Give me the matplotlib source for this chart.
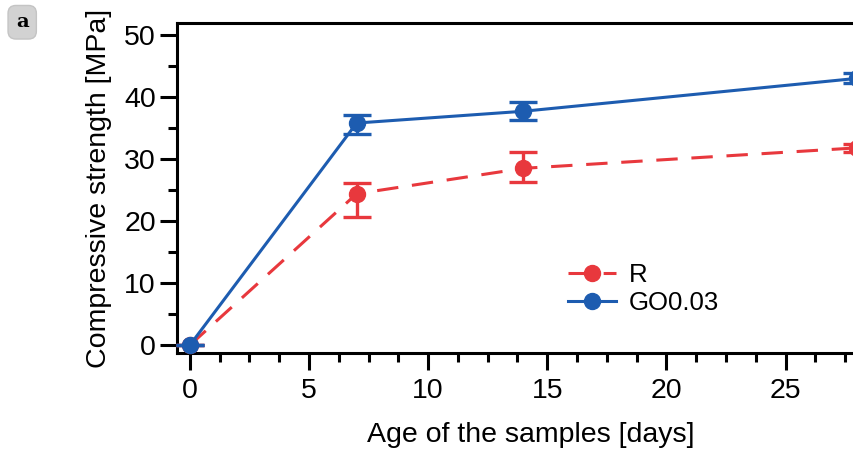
import matplotlib
matplotlib.use("Agg")
import matplotlib.pyplot as plt
import matplotlib.ticker as plticker
from matplotlib.lines import Line2D

# age of the samples [days]
days = [0, 7, 14, 28]

# compressive strength [MPa], asymmetric error bars
r_mean = [0, 24.4, 28.5, 31.8]
r_err_lo = [0, 3.8, 2.2, 0.6]
r_err_hi = [0, 1.7, 2.6, 0.6]

go_mean = [0, 35.8, 37.7, 43.0]
go_err_lo = [0, 1.8, 1.4, 0.7]
go_err_hi = [0, 1.3, 1.5, 0.8]

series_labels = ['R', 'GO0.03']

red = '#e8383d'
blue = '#1d5cb0'
r_dash = (0, (7, 4.5))

plt.rcParams['font.family'] = ['Liberation Sans', 'DejaVu Sans']

fig = plt.figure(figsize=(8.54, 4.54), dpi=100)
# the right edge of the axes runs off the figure, as in the reference
ax = fig.add_axes([0.207, 0.222, 0.83, 0.727])

ax.errorbar(days, r_mean, yerr=[r_err_lo, r_err_hi], color=red, ls=r_dash, lw=2.2,
            marker='o', ms=11.5, capsize=10, capthick=2.4, elinewidth=2.4,
            clip_on=False, zorder=3)
ax.errorbar(days, go_mean, yerr=[go_err_lo, go_err_hi], color=blue, ls='-', lw=2.2,
            marker='o', ms=11.5, capsize=10, capthick=2.4, elinewidth=2.4,
            clip_on=False, zorder=4)

ax.set_xlim(-0.55, 29.2)
ax.set_ylim(-1.3, 51.9)

ax.xaxis.set_major_locator(plticker.MultipleLocator(5))
ax.xaxis.set_minor_locator(plticker.MultipleLocator(1.25))
ax.yaxis.set_major_locator(plticker.MultipleLocator(10))
ax.yaxis.set_minor_locator(plticker.MultipleLocator(5))

ax.spines['right'].set_visible(False)
for s in ['left', 'bottom', 'top']:
    ax.spines[s].set_linewidth(2.2)

ax.tick_params(which='major', direction='out', length=12, width=2.2, labelsize=20.5)
ax.tick_params(which='minor', direction='out', length=6.5, width=2.2)
ax.tick_params(axis='x', which='major', pad=6)
ax.tick_params(axis='y', which='major', pad=3)
ax.tick_params(top=False, right=False)

ax.set_xlabel('Age of the samples [days]', fontsize=20.5, labelpad=13)
ax.set_ylabel('Compressive strength [MPa]', fontsize=20.5, labelpad=9)

handles = [
    Line2D([], [], color=red, ls=r_dash, lw=2.2, marker='o', ms=11.5),
    Line2D([], [], color=blue, ls='-', lw=2.2, marker='o', ms=11.5),
]
ax.legend(handles, series_labels, loc='upper left', bbox_to_anchor=(0.552, 0.274),
          frameon=False, fontsize=18.5, handlelength=1.85, handletextpad=0.5,
          labelspacing=0.15, borderpad=0, borderaxespad=0)

# panel letter
fig.text(0.026, 0.951, 'a', fontsize=14, fontweight='bold', family='DejaVu Serif',
         ha='center', va='center',
         bbox=dict(boxstyle='round,pad=0.4', facecolor='#d2d2d2', edgecolor='#c4c4c4'))

fig.savefig('out.png', dpi=100)
